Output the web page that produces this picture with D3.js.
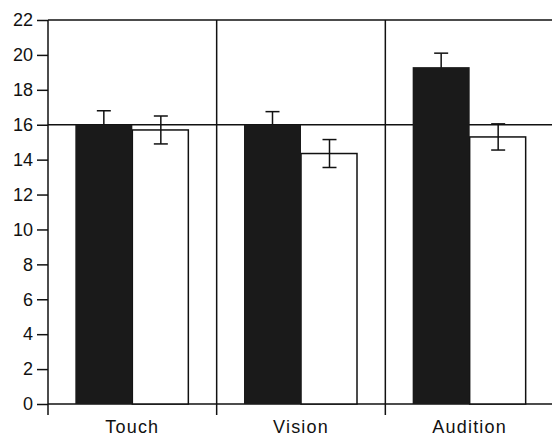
<!DOCTYPE html>
<html lang="en">
<head>
<meta charset="UTF-8">
<title>Touch / Vision / Audition</title>
<script src="https://d3js.org/d3.v7.min.js"></script>
<style>
    body { margin: 0; background: #fff; }
    svg text { font-family: "Liberation Sans", Arial, sans-serif; fill: #111; }
</style>
</head>
<body>
<svg id="chart" width="552" height="438"></svg>
<script>
    // data
    const categories = ["Touch", "Vision", "Audition"];
    const filledMeans = [16.0, 16.0, 19.3];
    const filledErr = [0.8, 0.75, 0.8];
    const openMeans = [15.7, 14.35, 15.3];
    const openErr = [0.8, 0.8, 0.75];
    const refValue = 16;
    const yTicks = [0, 2, 4, 6, 8, 10, 12, 14, 16, 18, 20, 22];

    const svg = d3.select("#chart");
    const plotLeft = 48, plotRight = 554, plotTop = 20, plotBottom = 404;
    const ink = "#111";

    const y = d3.scaleLinear().domain([0, 22]).range([plotBottom, plotTop]);
    const x = d3.scaleBand().domain(categories).range([plotLeft, plotRight]).padding(0);
    const barW = 57;

    // y axis
    const yAxis = svg.append("g")
        .attr("transform", `translate(${plotLeft},0)`)
        .call(d3.axisLeft(y).tickValues(yTicks).tickSize(11).tickPadding(4));
    yAxis.select(".domain").remove();
    yAxis.selectAll(".tick line").attr("stroke", ink).attr("stroke-width", 1.5);
    yAxis.selectAll(".tick text")
        .attr("font-size", 18)
        .attr("font-family", "Liberation Sans, Arial, sans-serif")
        .attr("fill", ink);

    // frame: top line, baseline, reference line
    [plotTop, plotBottom, y(refValue)].forEach(v => {
        svg.append("line")
            .attr("x1", plotLeft).attr("x2", 552)
            .attr("y1", v).attr("y2", v)
            .attr("stroke", ink).attr("stroke-width", 1.5);
    });

    // left axis line and panel dividers
    const dividers = [plotLeft].concat(categories.slice(1).map(c => x(c)));
    dividers.forEach(v => {
        svg.append("line")
            .attr("x1", v).attr("x2", v)
            .attr("y1", plotTop).attr("y2", plotBottom + 11)
            .attr("stroke", ink).attr("stroke-width", 1.5);
    });

    function errorBar(parent, cx, m, e) {
        parent.append("line")
            .attr("x1", cx).attr("x2", cx)
            .attr("y1", y(m - e)).attr("y2", y(m + e))
            .attr("stroke", ink).attr("stroke-width", 1.5);
        [m - e, m + e].forEach(v => {
            parent.append("line")
                .attr("x1", cx - 7).attr("x2", cx + 7)
                .attr("y1", y(v)).attr("y2", y(v))
                .attr("stroke", ink).attr("stroke-width", 1.5);
        });
    }

    // bars
    const g = svg.append("g");
    categories.forEach((c, i) => {
        const cx = x(c) + x.bandwidth() / 2;

        // open bar
        g.append("rect")
            .attr("x", cx).attr("y", y(openMeans[i]))
            .attr("width", barW - 1).attr("height", plotBottom - y(openMeans[i]))
            .attr("fill", "#fff").attr("stroke", ink).attr("stroke-width", 1.5);
        errorBar(g, cx + barW / 2, openMeans[i], openErr[i]);

        // filled bar (lower whisker hidden behind the bar)
        errorBar(g, cx - barW / 2, filledMeans[i], filledErr[i]);
        g.append("rect")
            .attr("x", cx - barW).attr("y", y(filledMeans[i]))
            .attr("width", barW).attr("height", plotBottom - y(filledMeans[i]))
            .attr("fill", "#1a1a1a");

        // category label
        svg.append("text")
            .attr("x", cx).attr("y", 433)
            .attr("text-anchor", "middle")
            .attr("font-size", 18)
            .attr("letter-spacing", 1.2)
            .text(c);
    });
</script>
</body>
</html>
